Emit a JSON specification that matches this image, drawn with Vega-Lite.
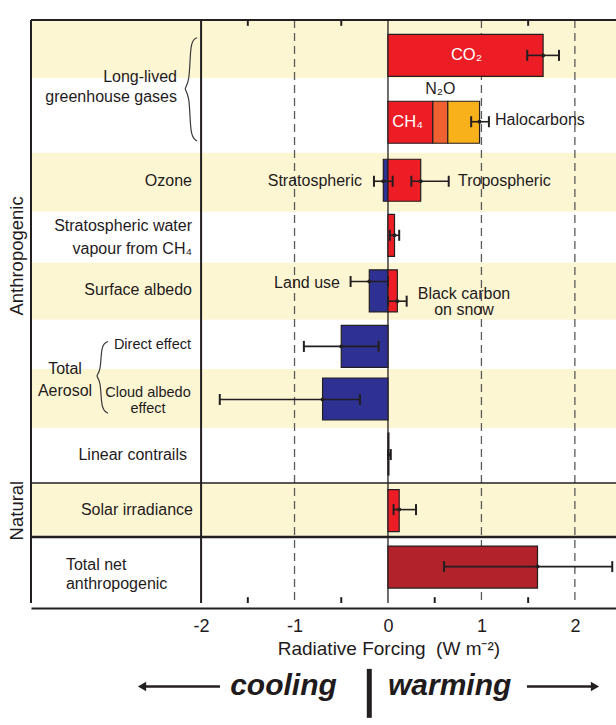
{
  "$schema": "https://vega.github.io/schema/vega-lite/v6.json",
  "width": 585,
  "height": 593,
  "autosize": {"type": "none"},
  "padding": {"left": 31, "top": 15, "right": 0, "bottom": 117},
  "background": "white",
  "view": {"stroke": null},
  "config": {
    "font": "Liberation Sans",
    "text": {"font": "Liberation Sans", "fontSize": 16, "fill": "#1f1b1c", "baseline": "middle"}
  },
  "layer": [
    {
      "data": {"values": [
        {"top": 0, "bottom": 0.995},
        {"top": 2.277, "bottom": 3.288},
        {"top": 4.165, "bottom": 5.143},
        {"top": 5.987, "bottom": 6.998},
        {"top": 7.943, "bottom": 8.87}
      ]},
      "mark": {"type": "rect", "fill": "#fdf6d3"},
      "encoding": {
        "x": {
          "datum": -3.82, "type": "quantitative", "title": null,
          "scale": {"domain": [-3.82, 2.44], "nice": false, "zero": false},
          "axis": {
            "orient": "bottom", "values": [-2, -1, 0, 1, 2],
            "labelExpr": "'' + datum.value",
            "labelOverlap": false,
            "ticks": false, "grid": false,
            "domain": true, "domainColor": "#231f20", "domainWidth": 2,
            "labelFont": "Liberation Sans", "labelFontSize": 18, "labelColor": "#1f1b1c",
            "labelPadding": 9, "title": null
          }
        },
        "x2": {"datum": 2.44},
        "y": {"field": "top", "type": "quantitative", "title": null,
              "scale": {"domain": [0, 10], "reverse": true, "nice": false, "zero": false},
              "axis": null},
        "y2": {"field": "bottom"}
      }
    },
    {
      "data": {"values": [{"at": -1}, {"at": 1}, {"at": 2}]},
      "mark": {"type": "rule", "stroke": "#5a5a5a", "strokeWidth": 1.3, "strokeDash": [8, 5]},
      "encoding": {
        "x": {"field": "at", "type": "quantitative", "title": null},
        "y": {"datum": 0},
        "y2": {"datum": 10}
      }
    },
    {
      "data": {"values": [{"at": -3.82}, {"at": -2}]},
      "mark": {"type": "rule", "stroke": "#231f20", "strokeWidth": 2},
      "encoding": {"x": {"field": "at", "type": "quantitative", "title": null}, "y": {"datum": 0}, "y2": {"datum": 10}}
    },
    {
      "data": {"values": [{"at": 0}]},
      "mark": {"type": "rule", "stroke": "#231f20", "strokeWidth": 1.3},
      "encoding": {"x": {"field": "at", "type": "quantitative", "title": null}, "y": {"datum": 0}, "y2": {"datum": 10}}
    },
    {
      "data": {"values": [{"at": 0}]},
      "mark": {"type": "rule", "stroke": "#231f20", "strokeWidth": 2},
      "encoding": {"x": {"datum": -3.82, "title": null}, "x2": {"datum": 2.44}, "y": {"field": "at", "type": "quantitative"}}
    },
    {
      "data": {"values": [{"at": 7.943}]},
      "mark": {"type": "rule", "stroke": "#231f20", "strokeWidth": 1.5},
      "encoding": {"x": {"datum": -3.82, "title": null}, "x2": {"datum": 2.44}, "y": {"field": "at", "type": "quantitative"}}
    },
    {
      "data": {"values": [{"at": 8.87}]},
      "mark": {"type": "rule", "stroke": "#231f20", "strokeWidth": 2.5},
      "encoding": {"x": {"datum": -3.82, "title": null}, "x2": {"datum": 2.44}, "y": {"field": "at", "type": "quantitative"}}
    },
    {
      "data": {"values": [{"at": -1.5}, {"at": -0.5}, {"at": 1.5}]},
      "mark": {"type": "rule", "stroke": "#231f20", "strokeWidth": 2},
      "encoding": {"x": {"field": "at", "type": "quantitative", "title": null}, "y": {"datum": 0}, "y2": {"datum": 0.1}}
    },
    {
      "data": {"values": [{"at": -1.5}, {"at": -0.5}, {"at": 0.5}, {"at": 1.5}]},
      "mark": {"type": "rule", "stroke": "#231f20", "strokeWidth": 2},
      "encoding": {"x": {"field": "at", "type": "quantitative", "title": null}, "y": {"datum": 9.9}, "y2": {"datum": 10}}
    },
    {
      "data": {"values": [
        {"agent": "CO₂", "kind": "CO2", "lo": 0, "hi": 1.66, "pos": 0.607},
        {"agent": "CH₄", "kind": "CH4", "lo": 0, "hi": 0.48, "pos": 1.754},
        {"agent": "N₂O", "kind": "N2O", "lo": 0.48, "hi": 0.64, "pos": 1.754},
        {"agent": "Halocarbons", "kind": "Halocarbons", "lo": 0.64, "hi": 0.98, "pos": 1.754},
        {"agent": "Stratospheric ozone", "kind": "cooling", "lo": -0.05, "hi": 0, "pos": 2.749},
        {"agent": "Tropospheric ozone", "kind": "warming", "lo": 0, "hi": 0.35, "pos": 2.749},
        {"agent": "Stratospheric water vapour from CH₄", "kind": "warming", "lo": 0, "hi": 0.07, "pos": 3.693},
        {"agent": "Land use", "kind": "cooling", "lo": -0.2, "hi": 0, "pos": 4.646},
        {"agent": "Black carbon on snow", "kind": "warming", "lo": 0, "hi": 0.1, "pos": 4.646},
        {"agent": "Aerosol direct effect", "kind": "cooling", "lo": -0.5, "hi": 0, "pos": 5.599},
        {"agent": "Cloud albedo effect", "kind": "cooling", "lo": -0.7, "hi": 0, "pos": 6.501},
        {"agent": "Linear contrails", "kind": "warming", "lo": 0, "hi": 0.01, "pos": 7.445},
        {"agent": "Solar irradiance", "kind": "warming", "lo": 0, "hi": 0.12, "pos": 8.415},
        {"agent": "Total net anthropogenic", "kind": "total", "lo": 0, "hi": 1.6, "pos": 9.384}
      ]},
      "mark": {"type": "bar", "orient": "horizontal", "size": 42, "stroke": "#231f20", "strokeWidth": 1.2},
      "encoding": {
        "x": {"field": "lo", "type": "quantitative", "title": null},
        "x2": {"field": "hi"},
        "y": {"field": "pos", "type": "quantitative"},
        "color": {
          "field": "kind", "type": "nominal", "legend": null,
          "scale": {
            "domain": ["CO2", "CH4", "N2O", "Halocarbons", "warming", "cooling", "total"],
            "range": ["#ec1d25", "#ec1d25", "#ef6130", "#f9b11b", "#ec1d25", "#2e3191", "#b1222a"]
          }
        }
      }
    },
    {
      "data": {"values": [
        {"agent": "CO₂", "val": 1.66, "lo": 1.49, "hi": 1.83, "pos": 0.607},
        {"agent": "CH₄ + N₂O + Halocarbons", "val": 0.98, "lo": 0.89, "hi": 1.08, "pos": 1.745},
        {"agent": "Stratospheric ozone", "val": -0.05, "lo": -0.15, "hi": 0.05, "pos": 2.766},
        {"agent": "Tropospheric ozone", "val": 0.35, "lo": 0.25, "hi": 0.65, "pos": 2.766},
        {"agent": "Stratospheric water vapour", "val": 0.07, "lo": 0.02, "hi": 0.12, "pos": 3.693},
        {"agent": "Land use", "val": -0.2, "lo": -0.4, "hi": 0, "pos": 4.486},
        {"agent": "Black carbon on snow", "val": 0.1, "lo": 0, "hi": 0.2, "pos": 4.823},
        {"agent": "Aerosol direct effect", "val": -0.5, "lo": -0.9, "hi": -0.1, "pos": 5.599},
        {"agent": "Cloud albedo effect", "val": -0.7, "lo": -1.8, "hi": -0.3, "pos": 6.509},
        {"agent": "Linear contrails", "val": 0.01, "lo": 0.003, "hi": 0.03, "pos": 7.454},
        {"agent": "Solar irradiance", "val": 0.12, "lo": 0.06, "hi": 0.3, "pos": 8.398},
        {"agent": "Total net anthropogenic", "val": 1.6, "lo": 0.6, "hi": 2.4, "pos": 9.376}
      ]},
      "layer": [
        {
          "mark": {"type": "rule", "stroke": "#231f20", "strokeWidth": 1.6},
          "encoding": {
            "x": {"field": "lo", "type": "quantitative", "title": null},
            "x2": {"field": "hi"},
            "y": {"field": "pos", "type": "quantitative"}
          }
        },
        {
          "mark": {"type": "tick", "orient": "vertical", "size": 11, "thickness": 2, "color": "#231f20", "opacity": 1},
          "encoding": {
            "x": {"field": "lo", "type": "quantitative", "title": null},
            "y": {"field": "pos", "type": "quantitative"}
          }
        },
        {
          "mark": {"type": "tick", "orient": "vertical", "size": 11, "thickness": 2, "color": "#231f20", "opacity": 1},
          "encoding": {
            "x": {"field": "hi", "type": "quantitative", "title": null},
            "y": {"field": "pos", "type": "quantitative"}
          }
        },
        {
          "mark": {"type": "point", "filled": true, "size": 16, "color": "#231f20", "opacity": 1},
          "encoding": {
            "x": {"field": "val", "type": "quantitative", "title": null},
            "y": {"field": "pos", "type": "quantitative"}
          }
        }
      ]
    },
    {
      "data": {"values": [
        {"brace": "greenhouse", "i": 0, "x": -2.044, "y": 0.304},
        {"brace": "greenhouse", "i": 1, "x": -2.119, "y": 0.354},
        {"brace": "greenhouse", "i": 2, "x": -2.119, "y": 1.096},
        {"brace": "greenhouse", "i": 3, "x": -2.194, "y": 1.18},
        {"brace": "greenhouse", "i": 4, "x": -2.119, "y": 1.265},
        {"brace": "greenhouse", "i": 5, "x": -2.119, "y": 2.007},
        {"brace": "greenhouse", "i": 6, "x": -2.044, "y": 2.074},
        {"brace": "aerosol", "i": 0, "x": -2.996, "y": 5.514},
        {"brace": "aerosol", "i": 1, "x": -3.071, "y": 5.565},
        {"brace": "aerosol", "i": 2, "x": -3.071, "y": 6.037},
        {"brace": "aerosol", "i": 3, "x": -3.135, "y": 6.105},
        {"brace": "aerosol", "i": 4, "x": -3.071, "y": 6.172},
        {"brace": "aerosol", "i": 5, "x": -3.071, "y": 6.678},
        {"brace": "aerosol", "i": 6, "x": -2.996, "y": 6.745}
      ]},
      "mark": {"type": "line", "interpolate": "basis", "stroke": "#3a3a3a", "strokeWidth": 1.2},
      "encoding": {
        "x": {"field": "x", "type": "quantitative", "title": null},
        "y": {"field": "y", "type": "quantitative"},
        "detail": {"field": "brace"},
        "order": {"field": "i", "type": "quantitative"}
      }
    },
    {
      "data": {"values": [
        {"label": "Ozone", "x": -2.097, "y": 2.766},
        {"label": "Surface albedo", "x": -2.097, "y": 4.638},
        {"label": "Linear contrails", "x": -2.151, "y": 7.454},
        {"label": "Solar irradiance", "x": -2.087, "y": 8.398},
        {"label": "Stratospheric", "x": -0.278, "y": 2.766},
        {"label": "Land use", "x": -0.514, "y": 4.503}
      ]},
      "mark": {"type": "text", "align": "right", "baseline": "middle", "fontSize": 16},
      "encoding": {
        "x": {"field": "x", "type": "quantitative", "title": null},
        "y": {"field": "y", "type": "quantitative"},
        "text": {"field": "label"}
      }
    },
    {
      "data": {"values": [{"label": "Long-lived\ngreenhouse gases", "x": -2.258, "y": 0.98}]},
      "mark": {"type": "text", "align": "right", "baseline": "middle", "fontSize": 16, "lineBreak": "\n", "lineHeight": 20},
      "encoding": {
        "x": {"field": "x", "type": "quantitative", "title": null},
        "y": {"field": "y", "type": "quantitative"},
        "text": {"field": "label"}
      }
    },
    {
      "data": {"values": [{"label": "Stratospheric water\nvapour from CH₄", "x": -2.097, "y": 3.541}]},
      "mark": {"type": "text", "align": "right", "baseline": "middle", "fontSize": 16, "lineBreak": "\n", "lineHeight": 23},
      "encoding": {
        "x": {"field": "x", "type": "quantitative", "title": null},
        "y": {"field": "y", "type": "quantitative"},
        "text": {"field": "label"}
      }
    },
    {
      "data": {"values": [{"label": "Direct effect", "x": -2.108, "y": 5.582}]},
      "mark": {"type": "text", "align": "right", "baseline": "middle", "fontSize": 14.5},
      "encoding": {
        "x": {"field": "x", "type": "quantitative", "title": null},
        "y": {"field": "y", "type": "quantitative"},
        "text": {"field": "label"}
      }
    },
    {
      "data": {"values": [{"label": "Cloud albedo\neffect", "x": -2.568, "y": 6.4}]},
      "mark": {"type": "text", "align": "center", "baseline": "middle", "fontSize": 14.5, "lineBreak": "\n", "lineHeight": 15.5},
      "encoding": {
        "x": {"field": "x", "type": "quantitative", "title": null},
        "y": {"field": "y", "type": "quantitative"},
        "text": {"field": "label"}
      }
    },
    {
      "data": {"values": [{"label": "Total\nAerosol", "x": -3.456, "y": 5.985}]},
      "mark": {"type": "text", "align": "center", "baseline": "middle", "fontSize": 16, "lineBreak": "\n", "lineHeight": 22},
      "encoding": {
        "x": {"field": "x", "type": "quantitative", "title": null},
        "y": {"field": "y", "type": "quantitative"},
        "text": {"field": "label"}
      }
    },
    {
      "data": {"values": [
        {"label": "N₂O", "x": 0.56, "y": 1.18},
        {"label": "Black carbon\non snow", "x": 0.813, "y": 4.7}
      ]},
      "mark": {"type": "text", "align": "center", "baseline": "middle", "fontSize": 16, "lineBreak": "\n", "lineHeight": 15.5},
      "encoding": {
        "x": {"field": "x", "type": "quantitative", "title": null},
        "y": {"field": "y", "type": "quantitative"},
        "text": {"field": "label"}
      }
    },
    {
      "data": {"values": [{"label": "Total net\nanthropogenic", "x": -3.446, "y": 9.34}]},
      "mark": {"type": "text", "align": "left", "baseline": "middle", "fontSize": 16, "lineBreak": "\n", "lineHeight": 19.5},
      "encoding": {
        "x": {"field": "x", "type": "quantitative", "title": null},
        "y": {"field": "y", "type": "quantitative"},
        "text": {"field": "label"}
      }
    },
    {
      "data": {"values": [
        {"label": "Halocarbons", "x": 1.145, "y": 1.72},
        {"label": "Tropospheric", "x": 0.749, "y": 2.766}
      ]},
      "mark": {"type": "text", "align": "left", "baseline": "middle", "fontSize": 16},
      "encoding": {
        "x": {"field": "x", "type": "quantitative", "title": null},
        "y": {"field": "y", "type": "quantitative"},
        "text": {"field": "label"}
      }
    },
    {
      "data": {"values": [
        {"label": "CO₂", "x": 0.84, "y": 0.607},
        {"label": "CH₄", "x": 0.21, "y": 1.745}
      ]},
      "mark": {"type": "text", "align": "center", "baseline": "middle", "fontSize": 16.5, "fill": "white"},
      "encoding": {
        "x": {"field": "x", "type": "quantitative", "title": null},
        "y": {"field": "y", "type": "quantitative"},
        "text": {"field": "label"}
      }
    },
    {
      "data": {"values": [
        {"label": "Anthropogenic", "x": -3.97, "y": 4.047},
        {"label": "Natural", "x": -3.97, "y": 8.415}
      ]},
      "mark": {"type": "text", "align": "center", "baseline": "middle", "fontSize": 18.5, "angle": 270},
      "encoding": {
        "x": {"field": "x", "type": "quantitative", "title": null},
        "y": {"field": "y", "type": "quantitative"},
        "text": {"field": "label"}
      }
    },
    {
      "data": {"values": [{"label": "Radiative Forcing\u00a0 (W m⁻²)", "x": 0.01, "y": 10.79}]},
      "mark": {"type": "text", "align": "center", "baseline": "middle", "fontSize": 19},
      "encoding": {
        "x": {"field": "x", "type": "quantitative", "title": null},
        "y": {"field": "y", "type": "quantitative"},
        "text": {"field": "label"}
      }
    },
    {
      "data": {"values": [
        {"label": "cooling", "x": -1.118, "y": 11.42},
        {"label": "warming", "x": 0.66, "y": 11.42}
      ]},
      "mark": {"type": "text", "align": "center", "baseline": "middle", "fontSize": 30, "fontWeight": "bold", "fontStyle": "italic"},
      "encoding": {
        "x": {"field": "x", "type": "quantitative", "title": null},
        "y": {"field": "y", "type": "quantitative"},
        "text": {"field": "label"}
      }
    },
    {
      "data": {"values": [
        {"dir": "cooling", "from": -2.6, "to": -1.798, "tip": -2.632, "y": 11.434},
        {"dir": "warming", "from": 1.487, "to": 2.183, "tip": 2.215, "y": 11.434}
      ]},
      "layer": [
        {
          "mark": {"type": "rule", "stroke": "#231f20", "strokeWidth": 2.5},
          "encoding": {
            "x": {"field": "from", "type": "quantitative", "title": null},
            "x2": {"field": "to"},
            "y": {"field": "y", "type": "quantitative"}
          }
        },
        {
          "mark": {"type": "point", "filled": true, "size": 90, "color": "#231f20", "opacity": 1},
          "encoding": {
            "x": {"field": "tip", "type": "quantitative", "title": null},
            "y": {"field": "y", "type": "quantitative"},
            "shape": {"field": "dir", "type": "nominal", "legend": null,
                      "scale": {"domain": ["cooling", "warming"], "range": ["triangle-left", "triangle-right"]}}
          }
        }
      ]
    },
    {
      "data": {"values": [{"at": -0.2}]},
      "mark": {"type": "rule", "stroke": "#231f20", "strokeWidth": 5},
      "encoding": {"x": {"field": "at", "type": "quantitative", "title": null}, "y": {"datum": 11.13}, "y2": {"datum": 11.97}}
    }
  ]
}
